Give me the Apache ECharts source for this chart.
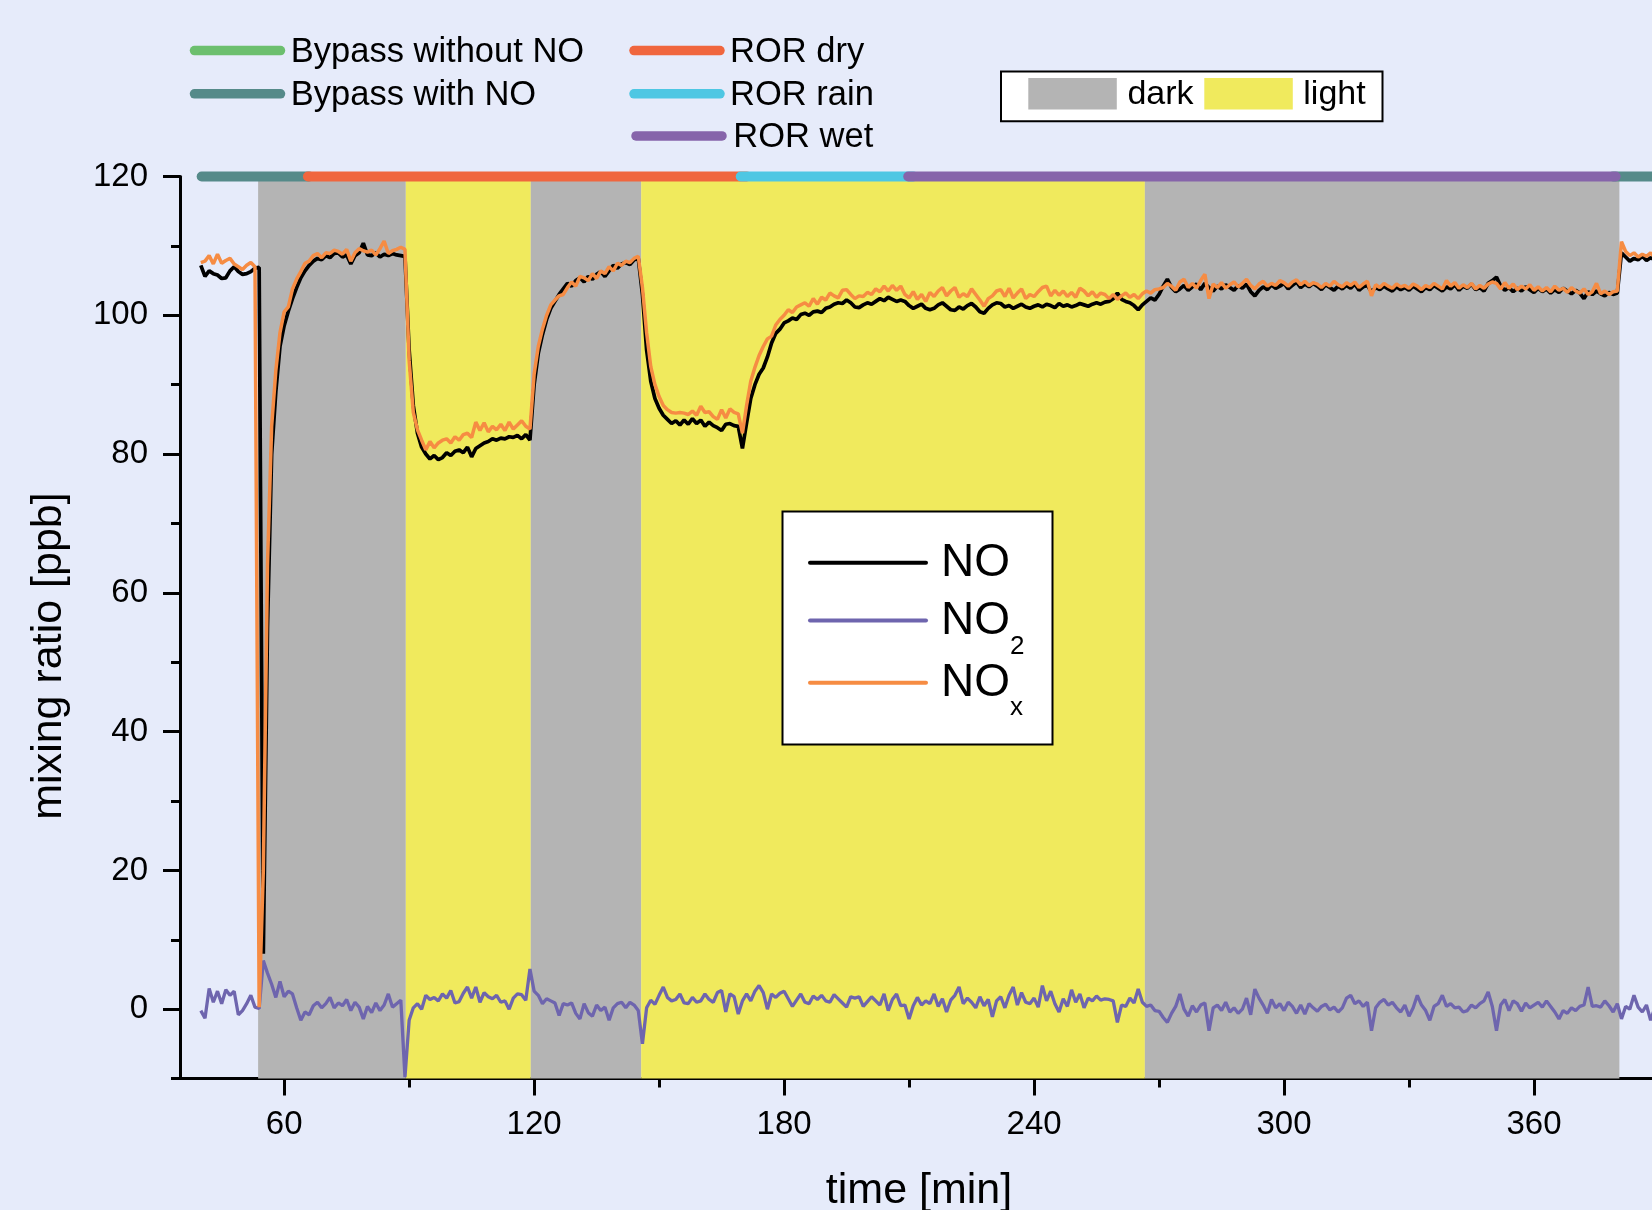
<!DOCTYPE html>
<html><head><meta charset="utf-8">
<script src="https://cdn.jsdelivr.net/npm/echarts@6/dist/echarts.min.js"></script>
<style>html,body{margin:0;padding:0;background:#E6EBFA;} #c{width:1652px;height:1210px;}</style>
</head><body><div id="c"></div>
<script>
// sampling: one value per minute, first sample at 40 min
const T_START = 40;
const NO = [
107.2,105.6,106.4,106.0,105.8,105.3,105.4,106.4,107.0,106.3,
105.9,106.0,106.3,106.8,106.9,8.0,55.0,80.0,89.0,95.5,
98.5,100.6,102.4,104.0,105.4,106.4,107.2,107.8,108.2,108.0,
108.6,108.3,108.9,109.0,108.4,108.7,107.4,108.6,109.0,110.4,
108.7,108.6,109.0,108.4,108.8,108.6,108.9,108.7,108.6,108.5,
95.0,87.0,83.0,81.0,80.0,79.3,79.8,79.2,79.5,80.2,
79.8,80.4,80.6,80.2,81.0,79.6,80.8,81.2,81.6,81.8,
82.2,82.0,82.3,82.2,82.5,82.4,82.7,82.2,82.8,82.0,
90.0,94.5,97.2,99.4,101.0,102.0,103.0,103.8,104.6,104.2,
105.0,105.4,104.8,105.6,105.2,105.9,106.3,105.6,106.4,107.2,
106.8,107.4,107.6,107.3,108.0,108.2,103.0,95.0,90.5,88.0,
86.6,85.6,85.0,84.4,84.8,84.2,84.9,84.3,85.1,84.4,
84.9,84.0,84.6,84.1,83.8,83.4,84.3,84.4,84.1,84.0,
80.8,84.5,88.0,90.0,91.5,92.4,94.0,96.0,97.4,98.0,
98.9,99.2,99.6,99.4,100.1,100.3,100.0,100.5,100.6,100.4,
101.0,101.2,101.6,101.8,101.7,102.2,101.8,101.2,101.1,101.5,
101.8,101.6,102.0,102.4,102.1,102.6,102.3,102.0,102.2,102.0,
101.4,101.0,101.3,101.6,101.0,100.8,101.0,101.5,101.8,101.3,
100.8,100.7,101.2,100.9,101.4,101.7,101.2,100.5,100.3,101.0,
101.5,101.8,101.7,101.2,101.4,101.0,101.3,101.6,101.2,101.0,
101.3,101.5,101.2,101.6,101.4,101.1,101.7,101.3,101.5,101.2,
101.4,101.7,101.5,101.3,101.6,101.8,101.6,101.9,102.0,102.4,
103.2,102.3,102.0,101.8,101.4,100.8,101.5,102.0,102.5,102.2,
103.0,104.2,105.2,104.0,103.4,103.8,104.3,103.6,104.1,104.5,
103.7,104.6,104.0,103.5,104.2,103.8,104.4,104.0,103.6,104.3,
103.9,104.5,103.4,102.8,103.6,104.1,103.7,104.4,103.9,104.2,
104.6,103.8,104.3,104.8,104.0,104.5,104.1,104.6,104.2,103.7,
104.4,104.0,103.6,104.2,103.8,104.3,103.9,104.5,103.6,104.1,
104.3,103.4,104.0,103.7,104.2,103.8,103.5,104.1,103.7,104.0,
103.6,104.2,103.8,103.4,104.0,103.7,104.3,103.9,103.5,104.1,
103.8,104.4,103.6,104.2,103.9,104.5,103.7,104.0,103.5,104.6,
105.0,105.5,104.2,103.6,104.0,103.4,103.9,103.5,104.1,103.7,
103.3,103.9,103.4,103.8,103.2,103.7,103.3,103.9,103.5,103.1,
103.6,103.2,102.4,103.4,103.0,103.5,103.1,102.8,103.3,103.0,
103.2,109.0,108.4,107.8,108.2,108.0,108.5,107.9,108.3,108.0,
108.4,108.1,108.3
];
const NOX = [
107.6,107.8,108.6,107.4,108.8,107.5,107.9,108.2,107.4,107.0,
106.6,107.2,107.6,107.0,0.3,20.0,64.0,84.0,92.0,97.5,
100.5,101.2,103.8,105.2,106.3,107.5,107.8,108.6,108.9,108.3,
109.0,108.9,109.4,109.2,108.8,109.5,107.8,109.0,109.6,109.3,
109.1,109.4,108.7,109.6,110.7,108.9,109.3,109.5,109.8,109.5,
93.5,86.0,83.5,82.0,80.6,81.8,80.9,81.6,82.0,82.2,
81.6,82.5,82.0,82.8,83.0,82.4,84.6,83.4,84.5,83.2,
84.0,83.5,84.3,83.4,84.6,83.6,84.2,84.8,84.0,83.6,
91.5,95.5,98.0,100.0,101.5,102.2,102.8,103.0,104.0,104.8,
104.2,105.6,105.4,105.0,106.0,105.3,106.4,106.0,107.0,106.4,
107.5,107.2,107.8,107.6,108.2,108.5,104.0,97.5,92.6,90.0,
88.3,87.0,86.4,86.0,85.9,86.0,85.9,85.7,86.2,85.6,
86.9,86.0,86.1,85.4,85.0,86.4,85.2,86.5,86.0,85.8,
83.0,87.0,90.5,92.5,94.2,95.5,96.6,97.0,98.6,99.4,
100.0,100.8,100.4,101.2,101.5,101.8,101.3,102.4,101.6,102.6,
102.2,103.2,102.8,102.5,103.6,103.7,103.0,102.4,102.8,102.7,
103.3,103.0,103.8,103.4,104.2,103.5,104.3,103.6,104.2,103.0,
102.5,103.4,102.3,103.0,102.0,103.3,102.7,103.5,104.0,102.8,
103.5,104.0,102.6,103.1,102.7,103.8,103.0,102.2,101.3,102.4,
102.8,103.5,103.7,102.7,103.9,102.5,103.2,103.8,102.4,103.0,
102.7,103.4,104.0,104.2,102.8,103.6,102.9,103.5,102.7,103.3,
102.6,103.9,103.5,102.8,103.4,102.6,103.2,103.0,102.4,103.0,
102.3,102.8,103.2,102.6,103.0,102.4,103.1,103.5,103.2,103.7,
103.8,104.0,104.6,104.2,103.6,104.8,105.2,104.0,104.6,103.9,
105.0,105.9,102.4,104.5,104.0,104.7,103.9,104.4,104.8,104.1,
104.6,105.2,104.3,103.8,104.5,104.9,104.2,104.6,104.3,105.0,
104.7,104.2,104.8,105.1,104.4,104.9,104.3,104.7,104.5,104.0,
104.6,104.2,104.9,104.4,104.1,104.7,104.3,104.8,104.0,104.5,
104.9,102.8,104.4,104.0,104.6,104.2,103.9,104.5,104.1,104.3,
103.9,104.5,104.2,103.7,104.3,104.0,104.6,104.2,103.8,105.0,
104.2,104.7,103.9,104.4,104.0,104.6,103.8,104.3,103.9,104.5,
104.8,104.6,103.8,104.7,103.9,104.5,103.7,104.2,103.8,104.4,
103.6,104.1,103.5,104.0,103.4,104.2,103.6,103.9,103.3,104.0,
103.5,103.2,103.8,103.0,103.4,104.6,103.1,103.5,103.0,103.4,
103.5,110.6,109.2,108.6,109.0,108.4,108.8,108.5,109.0,108.3,
108.7,108.4,108.6
];
const NO2 = [
-0.2,-1.3,3.0,1.0,2.6,0.8,2.8,2.0,2.6,-0.8,
-0.2,0.8,2.0,0.3,0.1,7.0,5.2,3.6,1.7,4.0,
1.8,2.6,2.2,0.2,-1.6,-0.4,-0.8,0.5,1.0,0.2,
0.8,1.7,0.2,0.9,0.5,1.4,-0.2,1.0,0.3,-1.4,
0.4,-0.5,0.9,-0.2,0.6,2.2,0.3,0.8,1.3,-9.8,
-1.6,0.2,0.8,0.0,2.0,1.4,1.7,1.2,2.2,1.6,
2.7,0.9,1.1,2.3,3.2,1.6,3.2,1.0,2.4,1.8,
1.5,2.0,1.0,1.2,0.0,1.6,2.2,2.1,1.3,5.8,
2.6,2.0,0.8,1.5,1.2,0.9,-0.9,0.8,0.6,0.9,
-0.6,-1.4,0.8,-0.5,-1.0,0.6,-0.2,0.3,-1.6,0.2,
0.8,1.0,0.2,1.0,0.6,-0.2,-5.0,0.2,1.3,0.7,
2.0,3.2,1.7,1.2,1.4,2.2,0.9,0.8,1.7,1.0,
1.2,2.2,1.4,1.0,2.4,2.7,-0.4,2.2,1.8,-0.7,
1.2,2.2,1.2,2.6,3.4,2.4,0.0,2.2,1.7,2.3,
2.6,1.5,0.4,1.3,2.2,1.0,0.8,1.9,1.4,2.0,
1.2,1.0,2.1,1.5,0.9,0.3,1.8,1.6,1.8,0.4,
1.1,1.8,1.2,0.6,2.2,-0.2,1.4,2.2,0.5,0.6,
-1.4,0.5,1.7,0.6,1.2,0.8,2.2,0.4,1.5,-0.4,
1.3,2.0,3.2,0.8,1.6,1.0,0.2,1.8,0.5,1.4,
-1.1,1.2,1.8,0.2,2.0,3.2,0.6,2.4,1.0,0.8,
1.6,0.3,3.4,1.2,2.6,0.8,-0.4,1.5,0.4,2.8,
1.0,2.2,0.2,1.6,1.2,1.9,1.3,1.5,1.4,1.2,
-1.9,0.6,0.4,1.6,0.9,2.9,1.0,0.4,0.6,-0.2,
-0.3,-1.2,-1.9,-0.6,0.4,2.2,0.0,-1.0,0.5,-0.4,
0.6,0.9,-3.1,0.2,0.6,-0.2,1.0,-0.4,0.2,-0.6,
0.0,1.6,-0.8,2.9,1.6,0.6,-0.6,1.4,0.2,0.8,
-0.2,1.0,0.4,-0.6,0.6,-0.7,0.8,0.2,-0.3,0.4,
0.7,-0.1,0.3,-0.4,0.2,1.6,2.0,0.8,1.2,0.4,
1.0,-3.1,0.2,1.0,1.4,0.6,1.0,0.2,-0.4,0.6,
-1.0,0.2,2.0,0.6,-0.2,-1.6,0.4,0.8,2.0,0.4,
0.8,0.2,0.3,-0.4,-0.2,0.6,0.2,0.8,1.2,2.5,
0.4,-3.1,0.6,1.4,-0.2,1.2,0.8,-0.3,0.9,0.2,
0.6,1.0,0.3,1.2,0.4,-0.4,-1.4,-0.2,-0.6,0.2,
-0.2,0.4,0.6,3.2,0.4,0.5,0.3,1.2,0.5,-0.4,
0.8,-1.4,0.4,0.0,2.0,0.3,-0.4,0.6,-1.6,0.2,
-0.6,0.4,0.0
];
const xMajorTicks = [60,120,180,240,300,360];
const xMinorTicks = [90,150,210,270,330,390];
const yMajorTicks = [0,20,40,60,80,100,120];
const yMinorTicks = [-10,10,30,50,70,90,110];
// illumination phases [kind, start, end] in minutes
const lightPhases = [['dark',53.75,89.2],['light',89.2,119.2],['dark',119.2,145.7],['light',145.7,266.6],['dark',266.6,380.5]];
// operating modes drawn as bar at 120 ppb [mode, start, end]
const modePhases = [['Bypass with NO',40.2,66],['ROR dry',65.7,171],['ROR rain',169.6,211],['Bypass with NO',379,398],['ROR wet',209.8,379.6]];
const modeLegend = ['Bypass without NO','Bypass with NO','ROR dry','ROR rain','ROR wet'];

const FONT = '"Liberation Sans", Arial, Helvetica, sans-serif';
const C = {
  'Bypass without NO':'#6CBF6E','Bypass with NO':'#558A89','ROR dry':'#F0663E',
  'ROR rain':'#4EC7E3','ROR wet':'#8664AA', dark:'#B4B4B4', light:'#F0EA5D',
  NO:'#000000', NO2:'#6E65AE', NOX:'#F68C43'
};

const toPts = arr => arr.map((v,i)=>[T_START+i, v]);

const chart = echarts.init(document.getElementById('c'), null, {renderer:'canvas'});

const series = [];
series.push({
  name:'NO2', type:'line', data: toPts(NO2), showSymbol:false, symbol:'none', z:3,
  lineStyle:{color:C.NO2, width:3.3}, silent:true,
  markArea:{silent:true, z:1, data: lightPhases.map(p=>[{xAxis:p[1], itemStyle:{color:C[p[0]], opacity:1}},{xAxis:p[2]}])}
});
series.push({name:'NO', type:'line', data: toPts(NO), showSymbol:false, symbol:'none', z:4,
  lineStyle:{color:C.NO, width:3.7}, silent:true});
series.push({name:'NOx', type:'line', data: toPts(NOX), showSymbol:false, symbol:'none', z:5,
  lineStyle:{color:C.NOX, width:3.5}, silent:true});
modePhases.forEach((m,i)=>{
  series.push({type:'line', data:[[m[1],120],[m[2],120]], showSymbol:false, symbol:'none', clip:false,
    z:10+i, silent:true, lineStyle:{color:C[m[0]], width:10, cap:'round'}});
});

const axisLineStyle = {color:'#000', width:3};
const graphic = [];
// mode legend
const legPos = [
  [194.5, 50.6, 290.8],[194.5, 93.8, 290.8],[634, 50.6, 730.1],[634, 93.8, 730.1],[636, 135.9, 733.3]
];
modeLegend.forEach((name,i)=>{
  const p = legPos[i];
  graphic.push({type:'line', shape:{x1:p[0], y1:p[1], x2:p[0]+86, y2:p[1]}, style:{stroke:C[name], lineWidth:9.5, lineCap:'round'}, silent:true});
  graphic.push({type:'text', x:p[2], y:p[1]+1.5, style:{text:name, fontSize:34.5, fontFamily:FONT, fill:'#000', align:'left', verticalAlign:'middle'}, silent:true});
});
// dark / light legend box
graphic.push({type:'rect', shape:{x:1001, y:71.6, width:381.5, height:49.6}, style:{fill:'#fff', stroke:'#000', lineWidth:2}, silent:true});
graphic.push({type:'rect', shape:{x:1028.3, y:78, width:88.5, height:31.6}, style:{fill:C.dark}, silent:true});
graphic.push({type:'text', x:1127.4, y:95, style:{text:'dark', fontSize:34, fontFamily:FONT, fill:'#000', align:'left', verticalAlign:'middle'}, silent:true});
graphic.push({type:'rect', shape:{x:1204.3, y:78, width:88.5, height:31.6}, style:{fill:C.light}, silent:true});
graphic.push({type:'text', x:1303.3, y:95, style:{text:'light', fontSize:34, fontFamily:FONT, fill:'#000', align:'left', verticalAlign:'middle'}, silent:true});
// series legend box
graphic.push({type:'rect', shape:{x:782.5, y:511.5, width:270, height:233}, style:{fill:'#fff', stroke:'#000', lineWidth:2}, silent:true, z:50});
const sLeg = [['NO',C.NO,562.7,null],['NO',C.NO2,620.5,'2'],['NO',C.NOX,682.7,'x']];
sLeg.forEach(s=>{
  graphic.push({type:'line', shape:{x1:810, y1:s[2], x2:926, y2:s[2]}, style:{stroke:s[1], lineWidth:4, lineCap:'round'}, silent:true, z:51});
  graphic.push({type:'text', x:941, y:s[2]+1, style:{text:s[0], fontSize:46, fontFamily:FONT, fill:'#000', align:'left', verticalAlign:'middle'}, silent:true, z:51});
  if (s[3]) graphic.push({type:'text', x:1010, y:s[2]+(s[3]==='2'?26:25), style:{text:s[3], fontSize:26, fontFamily:FONT, fill:'#000', align:'left', verticalAlign:'middle'}, silent:true, z:51});
});
// axis titles
graphic.push({type:'text', x:49.5, y:656, rotation:Math.PI/2, style:{text:'mixing ratio [ppb]', fontSize:43, fontFamily:FONT, fill:'#000', align:'center', verticalAlign:'middle'}, silent:true});
graphic.push({type:'text', x:919, y:1191, style:{text:'time [min]', fontSize:43, fontFamily:FONT, fill:'#000', align:'center', verticalAlign:'middle'}, silent:true});

chart.setOption({
  animation:false,
  backgroundColor:'#E6EBFA',
  grid:{left:180, top:176.5, right:-15.3, bottom:131.4, containLabel:false, outerBoundsMode:'none'},
  xAxis:[
    {type:'value', min:35, max:392, position:'bottom',
     axisLine:{show:true, onZero:false, lineStyle:axisLineStyle},
     axisTick:{show:true, customValues:xMajorTicks, length:17, lineStyle:{color:'#000', width:3}},
     axisLabel:{show:true, customValues:xMajorTicks, fontSize:33, fontFamily:FONT, color:'#000', margin:30},
     splitLine:{show:false}},
    {type:'value', min:35, max:392, position:'bottom',
     axisLine:{show:false, onZero:false},
     axisTick:{show:true, customValues:xMinorTicks, length:9, lineStyle:{color:'#000', width:3}},
     axisLabel:{show:false}, splitLine:{show:false}}
  ],
  yAxis:[
    {type:'value', min:-10, max:120, position:'left',
     axisLine:{show:true, onZero:false, lineStyle:axisLineStyle},
     axisTick:{show:true, customValues:yMajorTicks, length:17, lineStyle:{color:'#000', width:3}},
     axisLabel:{show:true, customValues:yMajorTicks, fontSize:33, fontFamily:FONT, color:'#000', margin:32},
     splitLine:{show:false}},
    {type:'value', min:-10, max:120, position:'left',
     axisLine:{show:false, onZero:false},
     axisTick:{show:true, customValues:yMinorTicks, length:9, lineStyle:{color:'#000', width:3}},
     axisLabel:{show:false}, splitLine:{show:false}}
  ],
  series: series,
  graphic: graphic
});
</script></body></html>
